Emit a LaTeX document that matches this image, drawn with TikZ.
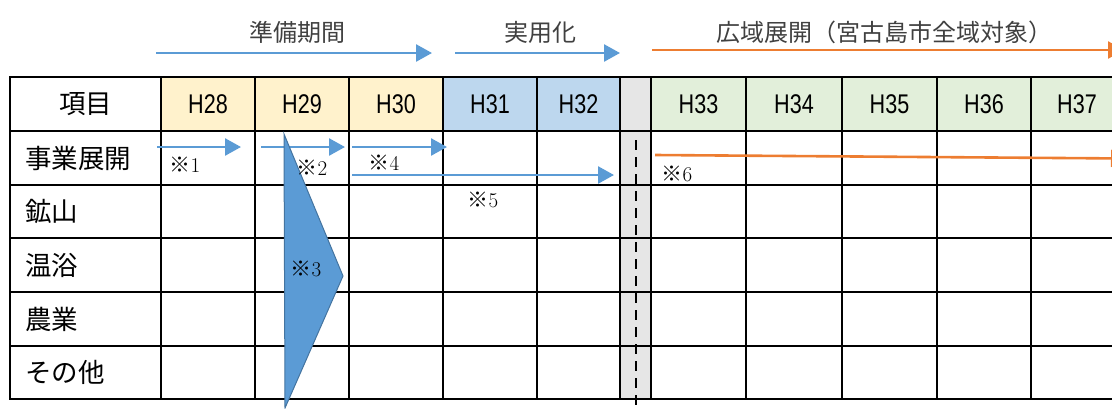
\documentclass[tikz,border=0pt]{standalone}
\usepackage{fontspec}
\newfontfamily\jfont{Noto Sans CJK JP}
\newfontfamily\hfont[FakeStretch=0.8]{Liberation Sans}
\usetikzlibrary{arrows.meta}
\definecolor{prepfill}{HTML}{FFF2CC}
\definecolor{usefill}{HTML}{BDD7EE}
\definecolor{widefill}{HTML}{E2EFDA}
\definecolor{gapfill}{HTML}{E6E6E6}
\definecolor{arrblue}{HTML}{5B9BD5}
\definecolor{arrorange}{HTML}{ED7D31}
\begin{document}
\begin{tikzpicture}[x=1pt,y=-1pt,
    grid/.style={line width=2.6pt,line cap=rect},
    yearlabel/.style={font=\hfont\fontsize{27}{27}\selectfont,inner sep=0pt},
    itemlabel/.style={font=\jfont\fontsize{26.5}{26.5}\selectfont,inner sep=0pt},
    phaselabel/.style={font=\jfont\fontsize{24}{24}\selectfont,text=black!75,inner sep=0pt},
    note/.style={font=\fontsize{21}{21}\selectfont,inner sep=0pt},
    bluearr/.style={draw=arrblue,line width=2.6pt,-{Triangle[length=16pt,width=17pt]}},
    orangearr/.style={draw=arrorange,line width=2.6pt,-{Triangle[length=16pt,width=17pt]}}]
    \clip (0,0) rectangle (1112,408);
    \useasboundingbox (0,0) rectangle (1112,408);

    \fill[prepfill] (161,77) rectangle (443,131);
    \fill[usefill] (443,77) rectangle (620,131);
    \fill[widefill] (651,77) rectangle (1125,131);
    \fill[gapfill] (620,77) rectangle (651,399);

    \foreach \x in {10,161,255,349,443,537,620,651,746,842,937,1031}
        \draw[grid] (\x,77) -- (\x,399);
    \foreach \y in {77,131,185,238,292,346,399}
        \draw[grid] (10,\y) -- (1130,\y);
    \draw[line width=2.2pt,dash pattern=on 10pt off 7pt] (636,140) -- (636,405);

    \node[itemlabel] (item) at (85.5,104) {項目};
    \node[yearlabel] (h28) at (208,104) {H28};
    \node[yearlabel] (h29) at (302,104) {H29};
    \node[yearlabel] (h30) at (396,104) {H30};
    \node[yearlabel] (h31) at (490,104) {H31};
    \node[yearlabel] (h32) at (578.5,104) {H32};
    \node[yearlabel] (h33) at (698.5,104) {H33};
    \node[yearlabel] (h34) at (794,104) {H34};
    \node[yearlabel] (h35) at (889.5,104) {H35};
    \node[yearlabel] (h36) at (984,104) {H36};
    \node[yearlabel] (h37) at (1077,104) {H37};

    \node[itemlabel,anchor=west] (biz) at (25,158) {事業展開};
    \node[itemlabel,anchor=west] (mine) at (25,211.5) {鉱山};
    \node[itemlabel,anchor=west] (bath) at (25,265) {温浴};
    \node[itemlabel,anchor=west] (farm) at (25,319) {農業};
    \node[itemlabel,anchor=west] (other) at (25,372.5) {その他};

    \node[phaselabel] (prep) at (297,32) {準備期間};
    \node[phaselabel] (use) at (540,32) {実用化};
    \node[phaselabel] (wide) at (884,32) {広域展開（宮古島市全域対象）};

    \coordinate (prepA) at (156,53);
    \coordinate (prepB) at (432,53);
    \coordinate (useA) at (455,53);
    \coordinate (useB) at (620,53);
    \coordinate (wideA) at (652,50);
    \coordinate (wideB) at (1124,50);
    \draw[bluearr] (prepA) -- (prepB);
    \draw[bluearr] (useA) -- (useB);
    \draw[orangearr] (wideA) -- (wideB);

    \coordinate (s1) at (157,147);
    \coordinate (e1) at (241,147);
    \coordinate (s2) at (261,147);
    \coordinate (e2) at (345,147);
    \coordinate (s4) at (352,147);
    \coordinate (e4) at (447,147);
    \coordinate (s5) at (352,175);
    \coordinate (e5) at (614,175);
    \coordinate (s6) at (655,155);
    \coordinate (e6) at (1127,158.5);
    \draw[bluearr] (s1) -- (e1);
    \draw[bluearr] (s2) -- (e2);
    \draw[bluearr] (s4) -- (e4);
    \draw[bluearr] (s5) -- (e5);
    \draw[orangearr] (s6) -- (e6);

    \coordinate (tipT) at (284,134);
    \coordinate (tipR) at (343,276);
    \coordinate (tipB) at (285,408);
    \fill[arrblue,draw=arrblue!75!black,line width=1pt] (tipT) -- (tipR) -- (tipB) -- cycle;

    \node[note] (n1) at (185,165) {{\jfont ※}1};
    \node[note] (n2) at (312,168) {{\jfont ※}2};
    \node[note] (n3) at (306,269) {{\jfont ※}3};
    \node[note] (n4) at (384,163) {{\jfont ※}4};
    \node[note] (n5) at (483,200) {{\jfont ※}5};
    \node[note] (n6) at (677,174) {{\jfont ※}6};
\end{tikzpicture}
\end{document}
